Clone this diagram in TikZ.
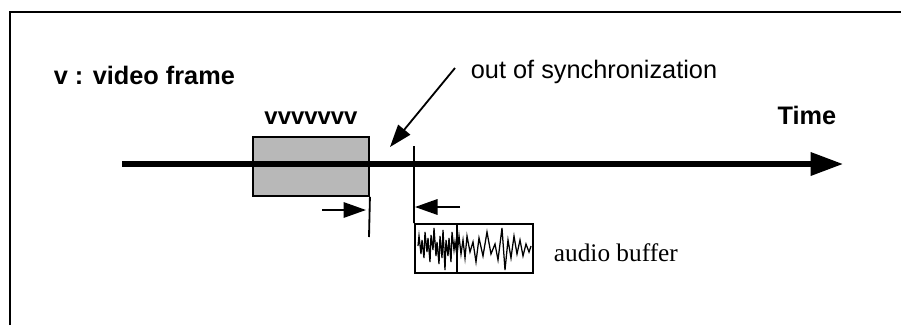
\documentclass[tikz,border=0pt]{standalone}
\usepackage{fontspec}
\setmainfont{Liberation Serif}
\setsansfont{Liberation Sans}
\usetikzlibrary{positioning,arrows.meta}

\begin{document}
\begin{tikzpicture}[
    x=0.025cm, y=-0.025cm,
    line width=1.3pt,
    every node/.style={inner sep=0pt},
    lbl/.style={font=\sffamily\bfseries\fontsize{18}{21}\selectfont},
    framebox/.style={draw, fill=black!28, minimum width=2.9cm, minimum height=1.475cm},
    bufbox/.style={draw, minimum width=2.95cm, minimum height=1.225cm},
    bigarrow/.style={-{Triangle[length=23pt,width=16pt]}, line width=3.6pt},
    smallarrow/.style={-{Triangle[length=16pt,width=11pt]}}
]

    % Bounding box and open frame
    \useasboundingbox (0,0) rectangle (901,325);
    \draw[line width=1.5pt] (10,325) -- (10,12) -- (901,12);

    % Labels
    \node[lbl, anchor=west] (legend) at (53,75) {v : video frame};
    \node[lbl] (time) at (807,115) {Time};
    \node[font=\sffamily\fontsize{18}{21}\selectfont, anchor=west] (sync) at (470,72) {out of synchronization};

    % Video frame and audio buffer
    \node[framebox] (vframe) at (311,166.5) {};
    \node[font=\sffamily\bfseries\fontsize{17}{20}\selectfont, above=0.27cm of vframe] (vlbl) {vvvvvvv};
    \node[bufbox] (abuf) at (474,248.5) {};
    \node[font=\fontsize{18}{21}\selectfont, anchor=base west] (alab) at (553,261) {audio buffer};

    % Time axis
    \coordinate (tstart) at (122,164);
    \coordinate (tend) at (843,164);
    \draw[bigarrow] (tstart) -- (tend);

    % Marks at end of frame and start of buffer
    \coordinate (m1) at (369,237);
    \coordinate (m2) at (414,146);
    \draw (vframe.south east) -- (m1);
    \draw (m2) -- (abuf.north west);
    \draw (abuf.north -| 457,0) -- (abuf.south -| 457,0);

    % Offset arrows
    \coordinate (r0) at (322,210);
    \coordinate (r1) at (366,210);
    \coordinate (l0) at (460,207);
    \coordinate (l1) at (415,207);
    \draw[smallarrow] (r0) -- (r1);
    \draw[smallarrow] (l0) -- (l1);

    % Pointer to the gap
    \coordinate (s0) at (455,68);
    \coordinate (s1) at (390,147);
    \draw[smallarrow] (s0) -- (s1);

    % Waveform
    \draw[line width=0.9pt] plot coordinates {
        (418,246) (419,236) (421,254) (422,240) (424,258) (425,232) (427,252)
        (428,238) (430,262) (431,235) (433,250) (434,228) (436,256) (437,242)
        (439,264) (440,236) (442,258) (443,230) (445,270) (446,240) (448,256)
        (449,238) (451,262) (452,232) (454,250) (455,242) (457,256) (459,236)
        (461,254) (463,240) (465,258) (467,236) (470,252) (473,242) (476,262)
        (479,238) (483,256) (487,232) (491,254) (495,244) (498,260) (502,228)
        (505,270) (508,240) (511,258) (514,236) (517,254) (520,240) (523,256)
        (526,244) (529,252) (531,246)};

\end{tikzpicture}
\end{document}
